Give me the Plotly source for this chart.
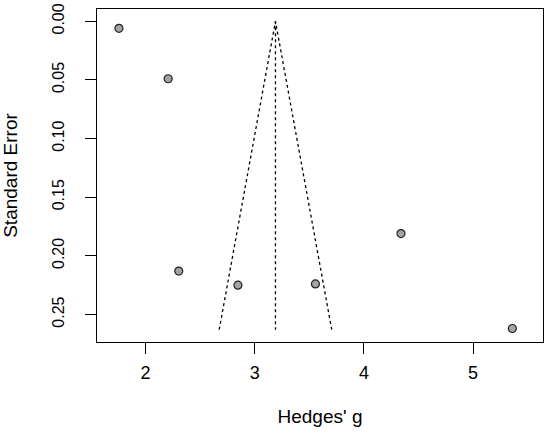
import plotly.graph_objects as go

# effect sizes (Hedges' g) and their standard errors
hedges_g = [1.756, 2.207, 2.304, 2.846, 3.556, 4.340, 5.360]
std_err = [0.006, 0.049, 0.213, 0.225, 0.224, 0.181, 0.262]

# pooled estimate and funnel depth
pooled = 3.19
se_max = 0.263
z = 1.96

x_ticks = [2, 3, 4, 5]
y_ticks = [0.00, 0.05, 0.10, 0.15, 0.20, 0.25]
y_labels = ["0.00", "0.05", "0.10", "0.15", "0.20", "0.25"]

fig = go.Figure()

# funnel outline
fig.add_trace(go.Scatter(
    x=[pooled - z * se_max, pooled, pooled + z * se_max],
    y=[se_max, 0, se_max],
    mode="lines", line=dict(color="black", width=1.3, dash="dot"),
    hoverinfo="skip"))
# vertical line at pooled estimate
fig.add_trace(go.Scatter(
    x=[pooled, pooled], y=[0, se_max],
    mode="lines", line=dict(color="black", width=1.3, dash="dot"),
    hoverinfo="skip"))

fig.add_trace(go.Scatter(
    x=hedges_g, y=std_err, mode="markers",
    marker=dict(size=8, color="#a4a4a4", line=dict(color="#222222", width=1.2))))

fig.update_layout(
    width=550, height=433,
    margin=dict(l=97, r=7, t=9, b=91),
    plot_bgcolor="white", paper_bgcolor="white",
    showlegend=False,
    font=dict(family="Liberation Sans, Arial, sans-serif", color="black", size=16),
)
fig.update_xaxes(
    range=[1.555, 5.641], tickvals=x_ticks, ticks="outside", ticklen=11,
    tickwidth=1, tickcolor="black", showgrid=False, zeroline=False,
    showline=True, linecolor="black", linewidth=1.3, mirror=True,
    tickfont=dict(size=18), ticklabelstandoff=3, automargin=False,
    title=dict(text="Hedges' g", font=dict(size=19), standoff=27))
fig.update_yaxes(
    range=[0.2735, -0.0105], tickvals=y_ticks, ticktext=y_labels,
    ticks="outside", ticklen=11, tickwidth=1, tickcolor="black",
    tickangle=-90, showgrid=False, zeroline=False,
    showline=True, linecolor="black", linewidth=1.3, mirror=True,
    tickfont=dict(size=16), ticklabelstandoff=14, automargin=False,
    ticklabeloverflow="allow",
    title=dict(text="Standard Error", font=dict(size=19), standoff=27))

# drop the default 8px body margin so the figure fills the window
fig.write_html("out.html", config={"displayModeBar": False},
               post_script="document.body.style.margin='0';")
